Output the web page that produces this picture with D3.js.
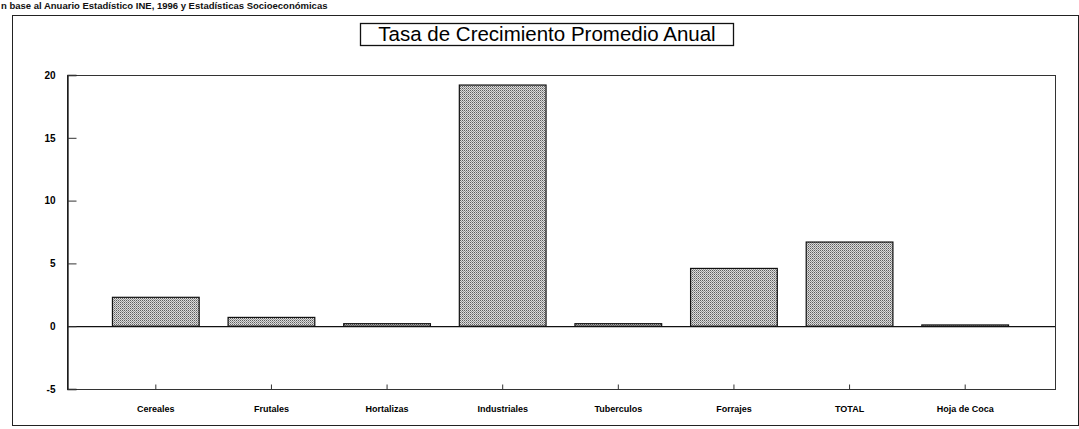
<!DOCTYPE html>
<html>
<head>
<meta charset="utf-8">
<script src="https://cdn.jsdelivr.net/npm/d3@7"></script>
<style>
  body { margin: 0; background: #fff; }
  svg { display: block; font-family: "Liberation Sans", Arial, sans-serif; }
</style>
</head>
<body>
<svg id="chart" width="1079" height="429"></svg>
<script>
// Datos
const categorias = ["Cereales", "Frutales", "Hortalizas", "Industriales", "Tuberculos", "Forrajes", "TOTAL", "Hoja de Coca"];
const tasas = [2.3, 0.7, 0.2, 19.2, 0.2, 4.6, 6.7, 0.1];
const yTicks = [-5, 0, 5, 10, 15, 20];

const titulo = "Tasa de Crecimiento Promedio Anual";
const fuente = "n base al Anuario Estadístico INE, 1996 y Estadísticas Socioeconómicas";

const svg = d3.select("#chart");

// patron punteado de las barras
const defs = svg.append("defs");
const pat = defs.append("pattern")
  .attr("id", "dots")
  .attr("width", 2).attr("height", 2)
  .attr("patternUnits", "userSpaceOnUse");
pat.append("rect").attr("width", 2).attr("height", 2).attr("fill", "#dcdcdc");
pat.append("rect").attr("width", 1).attr("height", 1).attr("fill", "#5e5e5e");
pat.append("rect").attr("x", 1).attr("y", 1).attr("width", 1).attr("height", 1).attr("fill", "#959595");

// texto de la fuente
svg.append("text")
  .attr("x", 1).attr("y", 9)
  .attr("font-size", 9.5).attr("font-weight", "bold")
  .attr("fill", "#111")
  .text(fuente);

// marco exterior
svg.append("rect")
  .attr("x", 12.5).attr("y", 15.5)
  .attr("width", 1066).attr("height", 410)
  .attr("fill", "none").attr("stroke", "#222").attr("stroke-width", 1);

// titulo en caja
svg.append("rect")
  .attr("x", 360.5).attr("y", 23.5)
  .attr("width", 373).attr("height", 22)
  .attr("fill", "#fff").attr("stroke", "#111").attr("stroke-width", 1.3);
svg.append("text")
  .attr("x", 547).attr("y", 41)
  .attr("text-anchor", "middle")
  .attr("font-size", 20.5)
  .attr("fill", "#000")
  .text(titulo);

const plot = { left: 67, right: 1055, top: 75, bottom: 389 };

const x = d3.scaleBand()
  .domain(categorias)
  .range([98, 1023])
  .paddingInner(0.25)
  .paddingOuter(0.125);

const y = d3.scaleLinear()
  .domain([-5, 20])
  .range([plot.bottom, plot.top]);

// marco del area de grafico
svg.append("rect")
  .attr("x", plot.left + 0.5).attr("y", plot.top + 0.5)
  .attr("width", plot.right - plot.left).attr("height", plot.bottom - plot.top)
  .attr("fill", "none").attr("stroke", "#333").attr("stroke-width", 1);

// barras
svg.append("g")
  .selectAll("rect")
  .data(tasas)
  .join("rect")
  .attr("x", (d, i) => x(categorias[i]))
  .attr("y", d => y(Math.max(0, d)))
  .attr("width", x.bandwidth())
  .attr("height", d => Math.max(1.5, Math.abs(y(d) - y(0))))
  .attr("fill", "url(#dots)")
  .attr("stroke", "#111")
  .attr("stroke-width", 1.2);

// linea del cero
svg.append("line")
  .attr("x1", plot.left).attr("x2", plot.right)
  .attr("y1", y(0) + 0.5).attr("y2", y(0) + 0.5)
  .attr("stroke", "#111").attr("stroke-width", 1.2);

// eje Y
const yAxis = svg.append("g")
  .attr("transform", `translate(${plot.left + 0.5},0)`)
  .call(d3.axisRight(y).tickValues(yTicks).tickSize(9).tickFormat(d => String(d)));
yAxis.select(".domain").attr("stroke", "#111").attr("stroke-width", 1.3);
yAxis.selectAll(".tick line").attr("stroke", "#333");
yAxis.selectAll(".tick text")
  .attr("x", -12)
  .attr("text-anchor", "end")
  .attr("font-size", 10).attr("font-weight", "bold")
  .attr("font-family", "Liberation Sans, Arial, sans-serif")
  .attr("fill", "#000");

// eje X
const xAxis = svg.append("g")
  .attr("transform", `translate(0,${plot.bottom + 0.5})`)
  .call(d3.axisTop(x).tickSize(5).tickFormat(""));
xAxis.select(".domain").remove();
xAxis.selectAll(".tick line").attr("stroke", "#333");

svg.append("g")
  .selectAll("text")
  .data(categorias)
  .join("text")
  .attr("x", d => x(d) + x.bandwidth() / 2)
  .attr("y", 412)
  .attr("text-anchor", "middle")
  .attr("font-size", 9).attr("font-weight", "bold")
  .attr("fill", "#000")
  .text(d => d);
</script>
</body>
</html>
